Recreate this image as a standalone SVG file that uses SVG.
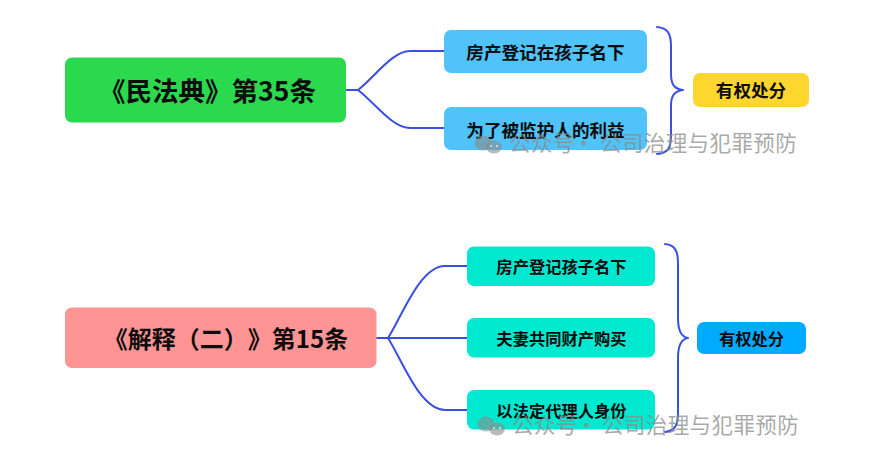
<svg xmlns="http://www.w3.org/2000/svg" width="881" height="459" viewBox="0 0 881 459">
<style>
text{font-family:"Noto Sans CJK SC","Liberation Sans",sans-serif;font-weight:700;fill:#0c0c0c;text-anchor:middle;text-spacing-trim:space-all}
.c{fill:none;stroke:#3b50e0;stroke-width:2;stroke-linecap:round;stroke-linejoin:round}
.t17{font-size:17.600px}.t16{font-size:16.300px}
.wm{font-weight:400;font-size:21.500px;fill:#8c8c8c;fill-opacity:.75;text-anchor:start;letter-spacing:.4px}
.ic{fill:#8c8c8c;fill-opacity:.6}
.eye{fill:#fff;fill-opacity:.8}
</style>
<rect width="881" height="459" fill="#fff"/>
<g id="connectors">
<path class="c" d="M346 90H358C374 78 392 51 410 51H444"/>
<path class="c" d="M358 90C374 102 392 128 410 128H444"/>
<path class="c" d="M657 27C668 28 671 34 671 46V74C671 84 674 89 683 90C674 91 671 96 671 106V136C671 148 668 153 657 154"/>
<path class="c" d="M376 338H388C402 316 420 266 445 266H467"/>
<path class="c" d="M388 338H467"/>
<path class="c" d="M388 338C402 360 420 410 445 410H467"/>
<path class="c" d="M665 244C675 245 678 251 678 263V318C678 330 681 337 688 338C681 339 678 346 678 358V413C678 425 675 431 665 432"/>
</g>
<g id="n1"><rect x="65" y="57.500" width="281" height="65" rx="7" fill="#2bd94f"/><text x="207.500" y="101" font-size="26.500">《民法典》第35条</text></g>
<g id="n2"><rect x="444" y="30" width="203" height="43" rx="7" fill="#4fc3fa"/><text class="t17" x="545.500" y="59">房产登记在孩子名下</text></g>
<g id="n3"><rect x="444" y="107" width="203" height="43" rx="7" fill="#4fc3fa"/><text class="t17" x="545.500" y="136.500">为了被监护人的利益</text></g>
<g id="n4"><rect x="693" y="73" width="116" height="34" rx="7" fill="#ffd62e"/><text class="t17" x="751" y="97">有权处分</text></g>
<g id="n5"><rect x="65" y="307.500" width="311.500" height="60.500" rx="7" fill="#ff9494"/><text x="226" y="348" font-size="24">《解释（二）》第15条</text></g>
<g id="n6"><rect x="467" y="246.500" width="188" height="39.500" rx="7" fill="#00e8d0"/><text class="t16" x="561.500" y="273">房产登记孩子名下</text></g>
<g id="n7"><rect x="467" y="318" width="188" height="39.500" rx="7" fill="#00e8d0"/><text class="t16" x="561.500" y="344.500">夫妻共同财产购买</text></g>
<g id="n8"><rect x="467" y="390" width="188" height="39.500" rx="7" fill="#00e8d0"/><text class="t16" x="561.500" y="416.500">以法定代理人身份</text></g>
<g id="n9"><rect x="697" y="322" width="109" height="32" rx="7" fill="#00aaff"/><text class="t16" x="751.500" y="344.500">有权处分</text></g>
<g id="watermark-1"><ellipse class="ic" cx="483" cy="143" rx="8.500" ry="7.500"/><ellipse class="ic" cx="494" cy="147" rx="8" ry="6.500"/><circle class="eye" cx="491" cy="146" r="1"/><circle class="eye" cx="497" cy="146" r="1"/><text class="wm" x="509" y="151">公众号<tspan x="573">·</tspan><tspan x="600">公司治理与犯罪预防</tspan></text></g>
<g id="watermark-2"><ellipse class="ic" cx="486" cy="424" rx="8.500" ry="7.500"/><ellipse class="ic" cx="497" cy="429" rx="8" ry="6.500"/><circle class="eye" cx="494" cy="428" r="1"/><circle class="eye" cx="500" cy="428" r="1"/><text class="wm" x="512" y="433">公众号<tspan x="576">·</tspan><tspan x="602">公司治理与犯罪预防</tspan></text></g>
</svg>
